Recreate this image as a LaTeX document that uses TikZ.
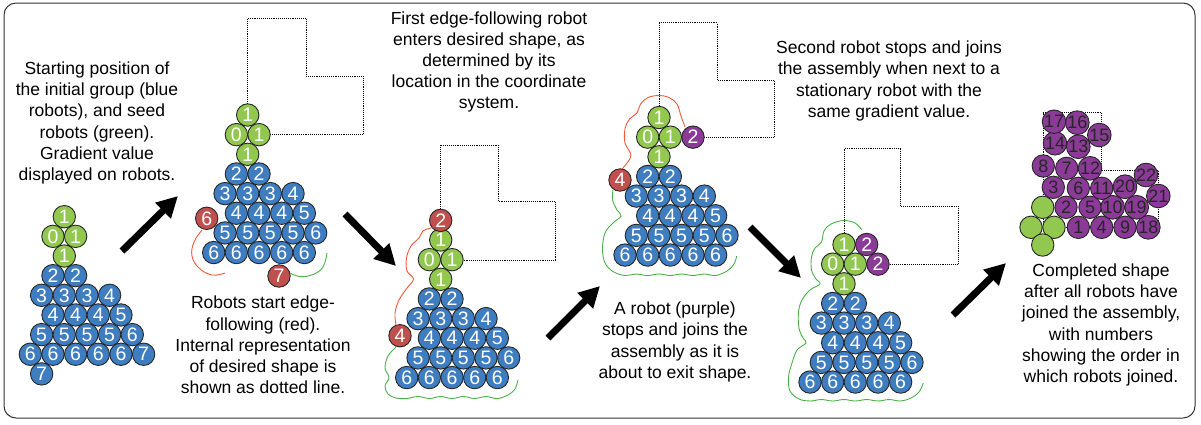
\documentclass[tikz,border=0pt]{standalone}
\usepackage{fontspec}
\setmainfont{Liberation Sans}
\usetikzlibrary{arrows.meta}
\definecolor{rblue}{HTML}{3F7DC1}
\definecolor{rgreen}{HTML}{92C84F}
\definecolor{rred}{HTML}{C0504D}
\definecolor{rpurple}{HTML}{8B3A98}
\definecolor{cred}{HTML}{F05A3A}
\definecolor{cgreen}{HTML}{4DB04A}
\tikzset{
  robot/.style={circle, draw=black!85, line width=0.9pt, minimum size=22.4pt, inner sep=0pt, text=white, font=\fontsize{19.5}{19.5}\selectfont},
  bl/.style={robot, fill=rblue},
  gr/.style={robot, fill=rgreen},
  rd/.style={robot, fill=rred},
  pu/.style={robot, fill=rpurple},
  pun/.style={robot, fill=rpurple, text=black!85, font=\fontsize{18}{18}\selectfont},
  desired/.style={densely dotted, line width=0.9pt},
  redpath/.style={cred, line width=0.9pt},
  greenpath/.style={cgreen, line width=0.9pt},
  bigarrow/.style={line width=7pt, -{Triangle[length=21pt,width=21pt]}},
  caption/.style={align=center, font=\fontsize{17.5}{21.2}\selectfont, inner sep=0pt}
}
\newcommand\seedblock[3]{%
  \foreach \s/\k/\r/\t [count=\i] in {gr/0/0/1,gr/-1/1/0,gr/1/1/1,gr/0/2/1,
    bl/-1/3/2,bl/1/3/2,
    bl/-2/4/3,bl/0/4/3,bl/2/4/3,bl/4/4/4,
    bl/-1/5/4,bl/1/5/4,bl/3/5/4,bl/5/5/5,
    bl/-2/6/5,bl/0/6/5,bl/2/6/5,bl/4/6/5,bl/6/6/6,
    bl/-3/7/6,bl/-1/7/6,bl/1/7/6,bl/3/7/6,bl/5/7/6}
  {\node[\s] (#1-\i) at ({#2+\k*11.33},{#3+\r*19.65}) {\t};}%
}
\begin{document}
\begin{tikzpicture}[x=1pt,y=-1pt]
\useasboundingbox (0,0) rectangle (1201,424);
\draw[rounded corners=12pt, line width=1pt, black!80] (4,3) rectangle (1195,418);

% ---------- panel 1
\seedblock{pa}{64.3}{216.7}
\node[bl] (pa-x1) at ({64.3+7*11.33},{216.7+7*19.65}) {7};
\node[bl] (pa-x2) at ({64.3-2*11.33},{216.7+8*19.65}) {7};
\node[caption] (t1) at (97,123) {Starting position of\\the initial group (blue\\robots), and seed\\robots (green).\\Gradient value\\displayed on robots.};

% ---------- panel 2
\draw[desired] (247.7,103.7) -- (247.7,18.3) -- (306,18.3) -- (306,76) -- (363,76) -- (363,134.3) -- (259,134.3);
\seedblock{pb}{247.7}{115}
\node[rd] (pb-r6) at (206.7,218.3) {6};
\node[rd] (pb-r7) at (279,276) {7};
\draw[redpath] plot[smooth, tension=0.7] coordinates {(202,230) (194,242) (192,256) (199,268) (212,275) (225,273)};
\draw[greenpath] plot[smooth, tension=0.7] coordinates {(290,273) (300,276.5) (313,274.5) (323,267) (327,253)};
\node[caption] (t2) at (263,345) {Robots start edge-\\following (red).\\Internal representation\\of desired shape is\\shown as dotted line.};

% ---------- panel 3
\draw[desired] (440.7,209) -- (440.7,145) -- (498.3,145) -- (498.3,201.7) -- (555,201.7) -- (555,260) -- (452,260);
\seedblock{pc}{440.7}{240}
\node[rd] (pc-r2) at ({440.7},{240-19.65}) {2};
\node[rd] (pc-r4) at (400,335.7) {4};
\draw[redpath] plot[smooth, tension=0.6] coordinates {(432.5,227.5) (423,231) (419,238) (411,246) (406.5,258) (407,271) (413.5,279) (407,288) (399,300) (395,313) (396,325)};
\draw[greenpath] plot[smooth, tension=0.6] coordinates {(396,347) (388,356) (385,368) (389,377.5) (385,386) (388,394) (396,398) (406.7,398.5) (418,396.5) (429.3,398.5) (440.7,396.5) (452,398.5) (463.3,396.5) (474.7,398.5) (486,396.5) (497.3,398.5) (508,395) (515,389) (518,380)};
\node[caption] (t3) at (489,62) {First edge-following robot\\enters desired shape, as\\determined by its\\location in the coordinate\\system.};

% ---------- panel 4
\draw[desired] (659,106) -- (659,22.7) -- (717.3,22.7) -- (717.3,80) -- (774.3,80) -- (774.3,137) -- (693,137);
\seedblock{pd}{659}{117.5}
\node[pu] (pd-p2) at ({659+3*11.33},{117.5+19.65}) {2};
\node[rd] (pd-r4) at (620,180) {4};
\draw[redpath] plot[smooth, tension=0.6] coordinates {(685,127) (681,116) (677,104) (669,97.5) (659,95.5) (648,97.5) (640.5,104) (637,113) (629.5,119) (625,129) (625,143) (631,155) (627,163) (622,169)};
\draw[greenpath] plot[smooth, tension=0.6] coordinates {(613,190) (612.5,200) (617,210) (621,216) (613,223) (605,233) (602.5,249) (605,263) (613,271.5) (625,275.5) (636,274) (647.6,275.5) (659,274) (670.3,275.5) (681.6,274) (693,275.5) (704.3,274) (715.6,275.5) (727,271) (734,264) (736.7,256)};
\node[caption] (t4) at (675,342) {A robot (purple)\\stops and joins the\\assembly as it is\\about to exit shape.};

% ---------- panel 5
\draw[desired] (844,233) -- (844,148.3) -- (900.7,148.3) -- (900.7,206) -- (958.3,206) -- (958.3,264) -- (878,264);
\seedblock{pe}{844}{244.5}
\node[pu] (pe-p1) at ({844+2*11.33},{244.5}) {2};
\node[pu] (pe-p2) at ({844+3*11.33},{244.5+19.65}) {2};
\draw[greenpath] plot[smooth, tension=0.6] coordinates {(862,230) (855,223) (843.5,220.5) (831,224) (824,231) (821.5,242) (815,248) (811.5,257) (811.5,270) (816,279) (820,284) (810,290) (802,300) (798.5,312) (799,328) (803,338) (806,343) (797,350) (792,363) (788.5,377) (790,391) (799,399) (810,401) (821.3,399.5) (832.6,401) (844,399.5) (855.3,401) (866.6,399.5) (878,401) (889.3,399.5) (900.6,401) (911,398) (919,392) (923.3,383)};
\node[caption] (t5) at (889,81) {Second robot stops and joins\\the assembly when next to a\\stationary robot with the\\same gradient value.};

% ---------- panel 6
\draw[desired] (1043.3,112.7) -- (1101.7,112.7) -- (1101.7,170) -- (1158.3,170) -- (1158.3,227) -- (1043.3,227) -- cycle;
\foreach \x/\y [count=\i] in {1042.7/207.3, 1031/227.3, 1054/227.3, 1042.7/245}
  {\node[gr] (pf-g\i) at (\x,\y) {};}
\foreach \x/\y/\t in {1078.3/227.3/1, 1066/207.3/2, 1053.3/187.3/3, 1101.7/227.3/4, 1090/207.3/5,
  1078.3/188.3/6, 1066.7/168.3/7, 1043.3/166/8, 1125/227.3/9, 1112.7/207.3/10, 1101.7/188.3/11,
  1090/168.3/12, 1078.3/146.7/13, 1055/143.3/14, 1077.3/122.7/16, 1054/121.7/17, 1099.3/135/15,
  1148.3/227.3/18, 1136.7/207.3/19, 1125/186.7/20, 1146/175/22, 1158.3/196/21}
  {\node[pun] (pf-\t) at (\x,\y) {\t};}
\node[caption] (t6) at (1101,325) {Completed shape\\after all robots have\\joined the assembly,\\with numbers\\showing the order in\\which robots joined.};

% ---------- arrows
\coordinate (a1s) at (122,251); \coordinate (a1e) at (178,196);
\coordinate (a2s) at (345,214); \coordinate (a2e) at (396,266);
\coordinate (a3s) at (548,338); \coordinate (a3e) at (600,286);
\coordinate (a4s) at (750,227); \coordinate (a4e) at (801,278);
\coordinate (a5s) at (953,315); \coordinate (a5e) at (1006,263);
\foreach \n in {1,...,5} {\draw[bigarrow] (a\n s) -- (a\n e);}
\end{tikzpicture}
\end{document}
